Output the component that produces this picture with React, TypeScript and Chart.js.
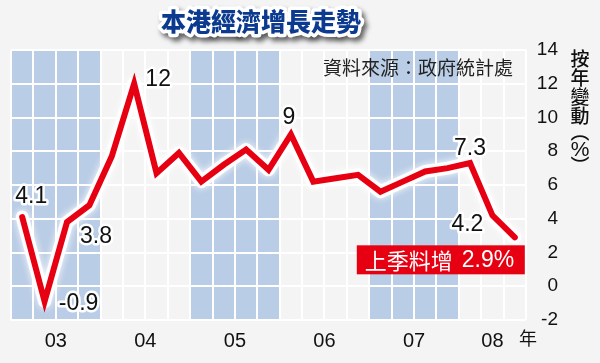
import React, { useEffect, useRef } from "react";
import { Chart, registerables } from "chart.js";
Chart.register(...registerables);

// Quarterly GDP growth, 2003 Q1 – 2008 Q3 (year-on-year %)
const quarters = [
  "03Q1", "03Q2", "03Q3", "03Q4",
  "04Q1", "04Q2", "04Q3", "04Q4",
  "05Q1", "05Q2", "05Q3", "05Q4",
  "06Q1", "06Q2", "06Q3", "06Q4",
  "07Q1", "07Q2", "07Q3", "07Q4",
  "08Q1", "08Q2", "08Q3",
];
const growth = [
  4.1, -0.9, 3.8, 4.8,
  7.7, 12, 6.7, 7.9,
  6.2, 7.2, 8.1, 6.9,
  9, 6.2, 6.4, 6.6,
  5.6, 6.2, 6.8, 7.0,
  7.3, 4.2, 2.9,
];
const yearLabels = ["03", "04", "05", "06", "07", "08"];
const yearStartIdx = [0, 4, 8, 12, 16, 20];
const yearQuarterCount = [4, 4, 4, 4, 4, 3];
const shadedYears = ["03", "05", "07"];
const yMin = -2;
const yMax = 14;
const yStep = 2;

// which points carry a value label
const labelledIdx = [0, 1, 2, 5, 12, 20, 21];
// label placement offsets (px) relative to the point
const labelDx = [9, 34, 29, 24, -2, 0, -25];
const labelDy = [-20, 2, 15, -4, -17, -14, 9];
const calloutIdx = 22;

const titleText = "本港經濟增長走勢";
const sourceText = "資料來源：政府統計處";
const axisTitleChars = ["按", "年", "變", "動", "︵", "%", "︶"];
const axisTitleY = [59, 78, 97, 116, 132, 150, 166];
const yearUnit = "年";
const calloutPrefix = "上季料增";

const RED = "#e60012";
const BAND = "#bacde6";
const BG = "#f4f4f4";
const CJK = '"Noto Sans CJK TC", "Noto Sans CJK SC", sans-serif';
const NUM = '"Liberation Sans", Arial, sans-serif';

const decor = {
  id: "decor",
  beforeDraw(chart: any) {
    const { ctx, chartArea: ca, scales } = chart;
    ctx.save();
    ctx.fillStyle = BG;
    ctx.fillRect(0, 0, chart.width, chart.height);
    const xs = scales.x;
    yearLabels.forEach((yl, k) => {
      if (!shadedYears.includes(yl)) return;
      const x0 = xs.getPixelForValue(yearStartIdx[k]);
      const x1 = xs.getPixelForValue(yearStartIdx[k] + yearQuarterCount[k]);
      ctx.fillStyle = BAND;
      ctx.fillRect(x0, ca.top, x1 - x0, ca.bottom - ca.top);
    });
    ctx.restore();
  },
  beforeDatasetDraw(chart: any, args: any) {
    if (args.index === 1) {
      chart.ctx.save();
      chart.ctx.shadowColor = "rgba(255,255,255,1)";
      chart.ctx.shadowBlur = 7;
    }
  },
  afterDatasetDraw(chart: any, args: any) {
    if (args.index === 1) chart.ctx.restore();
  },
  afterDraw(chart: any) {
    const { ctx } = chart;
    const meta = chart.getDatasetMeta(0);
    ctx.save();

    // Title
    ctx.font = `900 25px ${CJK}`;
    ctx.textAlign = "center";
    ctx.textBaseline = "middle";
    ctx.lineJoin = "round";
    ctx.shadowColor = "rgba(0,0,0,0.6)";
    ctx.shadowBlur = 5;
    ctx.shadowOffsetX = 3;
    ctx.shadowOffsetY = 4;
    ctx.strokeStyle = "#ffffff";
    ctx.lineWidth = 7;
    ctx.strokeText(titleText, 261, 21);
    ctx.shadowColor = "transparent";
    ctx.shadowBlur = 0;
    ctx.shadowOffsetX = 0;
    ctx.shadowOffsetY = 0;
    ctx.fillStyle = "#0c3a8f";
    ctx.fillText(titleText, 261, 21);

    // Source
    ctx.font = `400 19px ${CJK}`;
    ctx.fillStyle = "#222";
    ctx.textAlign = "left";
    ctx.fillText(sourceText, 323, 68);

    // Axis title (vertical)
    ctx.fillStyle = "#111";
    ctx.textAlign = "center";
    axisTitleChars.forEach((c, i) => {
      if (c === "%") ctx.font = `400 21px ${NUM}`;
      else ctx.font = `500 19px ${CJK}`;
      ctx.fillText(c, 580, axisTitleY[i]);
    });

    // year unit
    ctx.font = `400 18px ${CJK}`;
    ctx.fillText(yearUnit, 528, 338);

    // value labels
    ctx.font = `400 23px ${NUM}`;
    ctx.lineWidth = 5;
    ctx.strokeStyle = "rgba(255,255,255,0.95)";
    ctx.fillStyle = "#111";
    labelledIdx.forEach((idx, k) => {
      const p = meta.data[idx];
      const t = String(growth[idx]);
      const x = p.x + labelDx[k];
      const y = p.y + labelDy[k];
      ctx.strokeText(t, x, y);
      ctx.fillText(t, x, y);
    });

    // callout
    const lp = meta.data[calloutIdx];
    const bw = 168;
    const bh = 29;
    const bx = lp.x + 10 - bw;
    const by = lp.y + 8;
    ctx.fillStyle = RED;
    ctx.fillRect(bx, by, bw, bh);
    ctx.fillStyle = "#fff";
    ctx.textAlign = "left";
    ctx.font = `400 22px ${CJK}`;
    ctx.fillText(calloutPrefix, bx + 8, by + bh / 2 + 1);
    const w1 = ctx.measureText(calloutPrefix).width;
    ctx.font = `400 23px ${NUM}`;
    ctx.fillText(`${growth[calloutIdx]}%`, bx + 8 + w1 + 9, by + bh / 2 + 1);

    ctx.restore();
  },
};

export default function App() {
  const ref = useRef<HTMLCanvasElement | null>(null);
  useEffect(() => {
    document.body.style.margin = "0";
    const canvas = ref.current!;
    const points = growth.map((v, i) => ({ x: i + 0.5, y: v }));
    const chart = new Chart(canvas, {
      type: "line",
      data: {
        labels: quarters,
        datasets: [
          {
            label: "growth",
            data: points,
            borderColor: RED,
            borderWidth: 6,
            pointRadius: 0,
            tension: 0,
            borderJoinStyle: "miter",
            borderCapStyle: "round",
            order: 0,
          },
          {
            label: "glow",
            data: points,
            borderColor: "rgba(255,255,255,0.9)",
            borderWidth: 13,
            pointRadius: 0,
            tension: 0,
            borderJoinStyle: "round",
            borderCapStyle: "round",
            order: 1,
          },
        ],
      } as any,
      options: {
        responsive: false,
        animation: false,
        devicePixelRatio: 1,
        layout: { padding: { left: 11, top: 50, right: 42, bottom: 0 } },
        plugins: { legend: { display: false }, tooltip: { enabled: false }, title: { display: false } },
        scales: {
          x: {
            type: "linear",
            position: "bottom",
            min: 0,
            max: quarters.length,
            afterFit: (s: any) => {
              s.height = 43;
            },
            afterBuildTicks: (s: any) => {
              const t = [];
              for (let v = 0; v <= quarters.length; v += 0.5) t.push({ value: v });
              s.ticks = t;
            },
            ticks: {
              autoSkip: false,
              maxRotation: 0,
              minRotation: 0,
              padding: 9,
              color: "#111",
              font: { family: NUM, size: 20 },
              callback: (value: any) => {
                const k = yearLabels.findIndex(
                  (_, j) => yearStartIdx[j] + yearQuarterCount[j] / 2 === value
                );
                return k >= 0 ? yearLabels[k] : "";
              },
            },
            grid: {
              color: (c: any) =>
                c.tick && Number.isInteger(c.tick.value) ? "#ffffff" : "rgba(0,0,0,0)",
              lineWidth: 2,
              drawTicks: false,
            },
            border: { display: false },
          },
          y: {
            type: "linear",
            position: "right",
            min: yMin,
            max: yMax,
            afterFit: (s: any) => {
              s.width = 32;
            },
            ticks: {
              stepSize: yStep,
              crossAlign: "far",
              padding: 8,
              color: "#111",
              font: { family: NUM, size: 19 },
            },
            grid: { color: "#ffffff", lineWidth: 2, drawTicks: false },
            border: { display: false },
          },
        },
      } as any,
      plugins: [decor],
    });
    return () => chart.destroy();
  }, []);
  return <canvas ref={ref} width={600} height={363} style={{ display: "block" }} />;
}
